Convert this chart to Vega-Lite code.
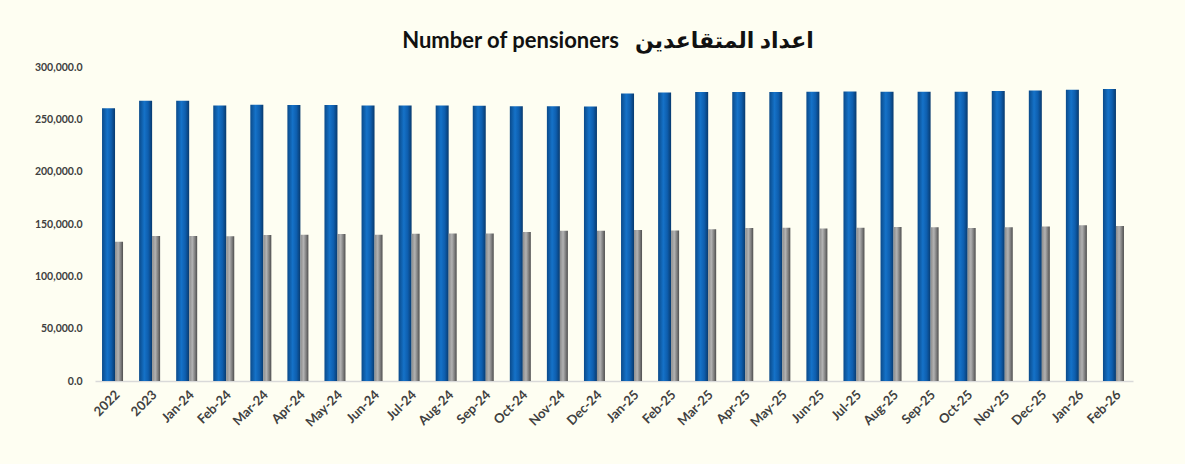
{
  "$schema": "https://vega.github.io/schema/vega-lite/v6.json",
  "autosize": {"type": "none"},
  "width": 1038,
  "height": 314,
  "padding": {"left": 95, "top": 67, "right": 52, "bottom": 83},
  "background": "#FEFEF2",
  "title": {
    "text": "Number of pensioners\u00a0\u00a0\u00a0اعداد المتقاعدين",
    "font": "Lato, DejaVu Sans",
    "fontSize": 22,
    "fontWeight": "bold",
    "color": "#111111",
    "anchor": "middle",
    "dx": -6,
    "offset": 9
  },
  "config": {
    "view": {"stroke": null},
    "axis": {"labelFont": "Lato", "labelFontWeight": "bold", "labelColor": "#404040", "ticks": false, "grid": false, "title": null}
  },
  "data": {
    "values": [
      {"period": "2022", "series": "A", "value": 260700},
      {"period": "2023", "series": "A", "value": 267700},
      {"period": "Jan-24", "series": "A", "value": 267700},
      {"period": "Feb-24", "series": "A", "value": 263300},
      {"period": "Mar-24", "series": "A", "value": 263900},
      {"period": "Apr-24", "series": "A", "value": 263600},
      {"period": "May-24", "series": "A", "value": 263600},
      {"period": "Jun-24", "series": "A", "value": 263300},
      {"period": "Jul-24", "series": "A", "value": 263300},
      {"period": "Aug-24", "series": "A", "value": 263300},
      {"period": "Sep-24", "series": "A", "value": 262900},
      {"period": "Oct-24", "series": "A", "value": 262600},
      {"period": "Nov-24", "series": "A", "value": 262600},
      {"period": "Dec-24", "series": "A", "value": 262300},
      {"period": "Jan-25", "series": "A", "value": 274700},
      {"period": "Feb-25", "series": "A", "value": 275700},
      {"period": "Mar-25", "series": "A", "value": 276000},
      {"period": "Apr-25", "series": "A", "value": 276000},
      {"period": "May-25", "series": "A", "value": 276000},
      {"period": "Jun-25", "series": "A", "value": 276300},
      {"period": "Jul-25", "series": "A", "value": 276700},
      {"period": "Aug-25", "series": "A", "value": 276300},
      {"period": "Sep-25", "series": "A", "value": 276300},
      {"period": "Oct-25", "series": "A", "value": 276300},
      {"period": "Nov-25", "series": "A", "value": 277000},
      {"period": "Dec-25", "series": "A", "value": 277600},
      {"period": "Jan-26", "series": "A", "value": 278200},
      {"period": "Feb-26", "series": "A", "value": 278900},
      {"period": "2022", "series": "B", "value": 133000},
      {"period": "2023", "series": "B", "value": 138500},
      {"period": "Jan-24", "series": "B", "value": 138500},
      {"period": "Feb-24", "series": "B", "value": 138200},
      {"period": "Mar-24", "series": "B", "value": 139400},
      {"period": "Apr-24", "series": "B", "value": 139700},
      {"period": "May-24", "series": "B", "value": 140400},
      {"period": "Jun-24", "series": "B", "value": 139700},
      {"period": "Jul-24", "series": "B", "value": 140700},
      {"period": "Aug-24", "series": "B", "value": 141000},
      {"period": "Sep-24", "series": "B", "value": 141000},
      {"period": "Oct-24", "series": "B", "value": 142300},
      {"period": "Nov-24", "series": "B", "value": 143500},
      {"period": "Dec-24", "series": "B", "value": 143500},
      {"period": "Jan-25", "series": "B", "value": 144200},
      {"period": "Feb-25", "series": "B", "value": 143900},
      {"period": "Mar-25", "series": "B", "value": 144900},
      {"period": "Apr-25", "series": "B", "value": 146100},
      {"period": "May-25", "series": "B", "value": 146400},
      {"period": "Jun-25", "series": "B", "value": 145800},
      {"period": "Jul-25", "series": "B", "value": 146400},
      {"period": "Aug-25", "series": "B", "value": 147100},
      {"period": "Sep-25", "series": "B", "value": 146800},
      {"period": "Oct-25", "series": "B", "value": 146100},
      {"period": "Nov-25", "series": "B", "value": 146800},
      {"period": "Dec-25", "series": "B", "value": 147700},
      {"period": "Jan-26", "series": "B", "value": 148700},
      {"period": "Feb-26", "series": "B", "value": 148000}
    ]
  },
  "encoding": {
    "x": {
      "field": "period",
      "type": "nominal",
      "sort": null,
      "scale": {"paddingInner": 0, "paddingOuter": 0},
      "axis": {"labelAngle": -45, "labelFontSize": 13, "labelPadding": 7, "domainColor": "#D9D9D9", "domainWidth": 1.5}
    },
    "y": {
      "field": "value",
      "type": "quantitative",
      "scale": {"domain": [0, 300000]},
      "axis": {"values": [0, 50000, 100000, 150000, 200000, 250000, 300000], "format": ",.1f", "labelFontSize": 10.5, "labelPadding": 13, "domain": false}
    }
  },
  "layer": [
    {
      "transform": [{"filter": "datum.series === 'A'"}],
      "mark": {
        "type": "bar",
        "width": 13,
        "xOffset": -5,
        "color": {
          "gradient": "linear", "x1": 0, "x2": 1, "y1": 0, "y2": 0,
          "stops": [
            {"offset": 0, "color": "#0A4A8A"},
            {"offset": 0.4, "color": "#1572C8"},
            {"offset": 0.7, "color": "#0E5EAE"},
            {"offset": 1, "color": "#083A6E"}
          ]
        }
      }
    },
    {
      "transform": [{"filter": "datum.series === 'B'"}],
      "mark": {
        "type": "bar",
        "width": 8,
        "xOffset": 5.5,
        "color": {
          "gradient": "linear", "x1": 0, "x2": 1, "y1": 0, "y2": 0,
          "stops": [
            {"offset": 0, "color": "#8C8C8C"},
            {"offset": 0.4, "color": "#B2B2B2"},
            {"offset": 0.75, "color": "#7A7A7A"},
            {"offset": 1, "color": "#4E4E4E"}
          ]
        }
      }
    }
  ]
}
